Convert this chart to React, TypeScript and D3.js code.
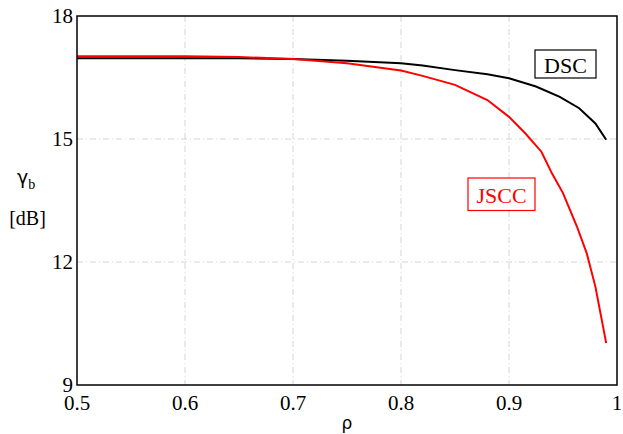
import React from "react";
import * as d3 from "d3";

const xTicks = [0.5, 0.6, 0.7, 0.8, 0.9, 1];
const xTickLabels = ["0.5", "0.6", "0.7", "0.8", "0.9", "1"];
const yTicks = [9, 12, 15, 18];
const yTickLabels = ["9", "12", "15", "18"];

const dscRho = [0.5, 0.6, 0.65, 0.7, 0.75, 0.8, 0.82, 0.85, 0.88, 0.9, 0.925, 0.947, 0.965, 0.98, 0.99];
const dscGamma = [16.97, 16.97, 16.97, 16.95, 16.91, 16.85, 16.79, 16.68, 16.58, 16.48, 16.28, 16.03, 15.75, 15.38, 14.98];

const jsccRho = [0.5, 0.6, 0.65, 0.7, 0.75, 0.8, 0.82, 0.85, 0.88, 0.9, 0.915, 0.93, 0.94, 0.95, 0.963, 0.972, 0.98, 0.99];
const jsccGamma = [17.02, 17.02, 17.0, 16.95, 16.85, 16.67, 16.54, 16.32, 15.95, 15.54, 15.14, 14.69, 14.15, 13.68, 12.86, 12.21, 11.4, 10.02];

const W = 623;
const H = 434;
const left = 77;
const right = 617;
const top = 16;
const bottom = 385;

export default function App() {
  const x = d3.scaleLinear().domain([0.5, 1]).range([left, right]);
  const y = d3.scaleLinear().domain([9, 18]).range([bottom, top]);
  const line = d3
    .line<[number, number]>()
    .x((d) => x(d[0]))
    .y((d) => y(d[1]));
  const dsc = dscRho.map((r, i) => [r, dscGamma[i]] as [number, number]);
  const jscc = jsccRho.map((r, i) => [r, jsccGamma[i]] as [number, number]);
  const serif = "'Liberation Serif', 'Times New Roman', serif";
  const sans = "'DejaVu Sans', sans-serif";

  return (
    <svg
      width={W}
      height={H}
      style={{ position: "absolute", left: 0, top: 0, background: "#fff" }}
    >
      <rect x={0} y={0} width={W} height={H} fill="#fff" />
      {/* grid */}
      {xTicks.slice(1, -1).map((t) => (
        <line
          key={"gx" + t}
          x1={x(t)}
          x2={x(t)}
          y1={top}
          y2={bottom}
          stroke="#d4d4d4"
          strokeWidth={1}
          strokeDasharray="6 3 1 3"
        />
      ))}
      {yTicks.slice(1, -1).map((t) => (
        <line
          key={"gy" + t}
          x1={left}
          x2={right}
          y1={y(t)}
          y2={y(t)}
          stroke="#d4d4d4"
          strokeWidth={1}
          strokeDasharray="6 3 1 3"
        />
      ))}
      {/* curves */}
      <path d={line(dsc) || ""} fill="none" stroke="#000" strokeWidth={2} />
      <path d={line(jscc) || ""} fill="none" stroke="#ff0000" strokeWidth={2} />
      {/* frame */}
      <rect
        x={left}
        y={top}
        width={right - left}
        height={bottom - top}
        fill="none"
        stroke="#000"
        strokeWidth={1.5}
      />
      {/* tick labels */}
      {yTicks.map((t, i) => (
        <text
          key={"yl" + t}
          x={left - 4}
          y={y(t) + 7}
          textAnchor="end"
          fontFamily={serif}
          fontSize={21}
          fill="#000"
        >
          {yTickLabels[i]}
        </text>
      ))}
      {xTicks.map((t, i) => (
        <text
          key={"xl" + t}
          x={x(t)}
          y={410}
          textAnchor="middle"
          fontFamily={serif}
          fontSize={21}
          fill="#000"
        >
          {xTickLabels[i]}
        </text>
      ))}
      {/* axis titles */}
      <text x={347} y={429} textAnchor="middle" fontFamily={sans} fontSize={17} fill="#000">
        ρ
      </text>
      <text x={17} y={184} fontFamily={sans} fontSize={19} fill="#000">
        γ
        <tspan fontFamily={serif} fontSize={14} dy={5}>
          b
        </tspan>
      </text>
      <text x={27.5} y={225} textAnchor="middle" fontFamily={serif} fontSize={20} fill="#000">
        [dB]
      </text>
      {/* labels */}
      <rect x={535} y={50} width={61} height={28} fill="#fff" stroke="#000" strokeWidth={1.2} />
      <text x={565.5} y={72.5} textAnchor="middle" fontFamily={serif} fontSize={22} fill="#000">
        DSC
      </text>
      <rect x={468} y={178} width={67} height={32.5} fill="#fff" stroke="#ff0000" strokeWidth={1.2} />
      <text x={501.5} y={203} textAnchor="middle" fontFamily={serif} fontSize={22} fill="#ff0000">
        JSCC
      </text>
    </svg>
  );
}
